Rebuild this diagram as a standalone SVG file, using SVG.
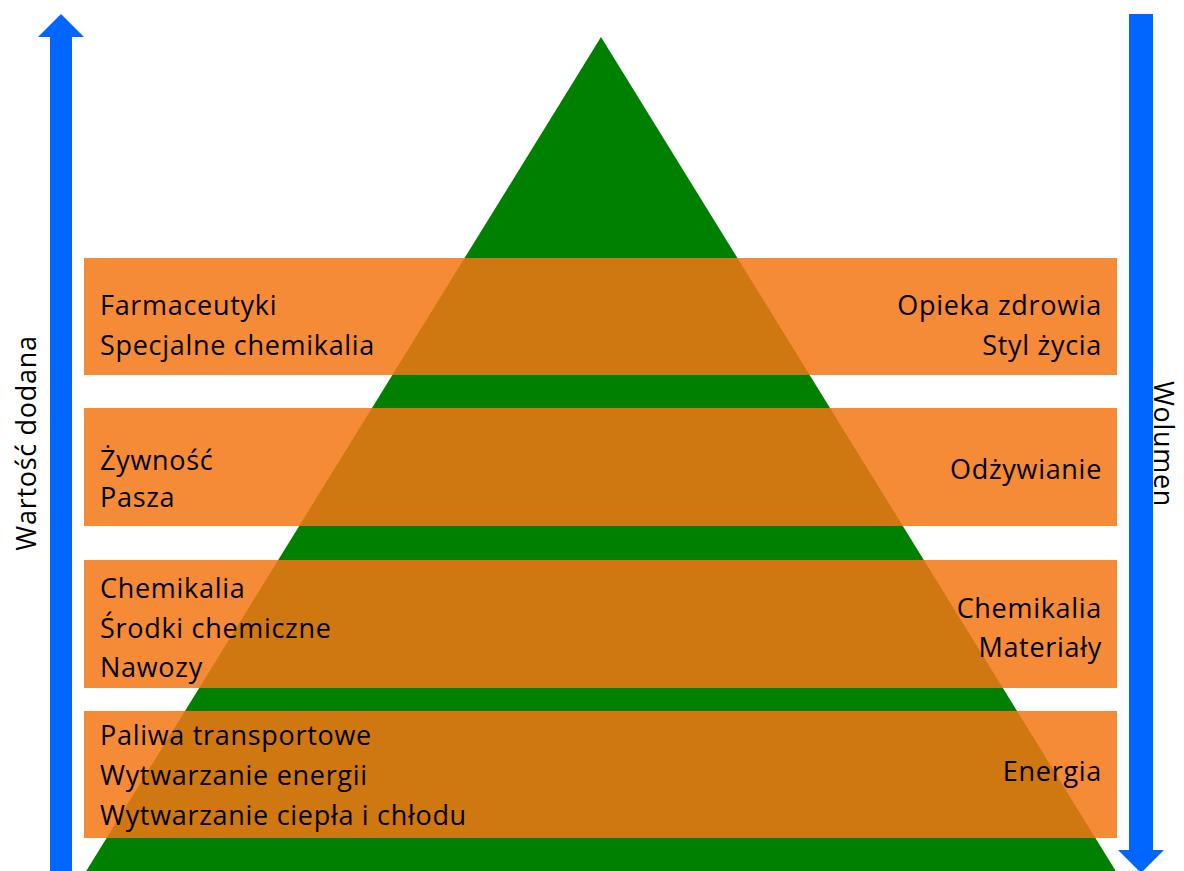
<svg xmlns="http://www.w3.org/2000/svg" width="1184" height="871" viewBox="0 0 1184 871">
<style>
.band{fill:#F37614;fill-opacity:0.85}
.t{font-family:"Open Sans","Noto Sans",sans-serif;font-size:27px;letter-spacing:0.7px;fill:#000}
.r{text-anchor:end}
.arrow{fill:#0066FF}
</style>
<rect width="1184" height="871" fill="#fff"/>
<g id="pyramid"><polygon points="601,37 85,873 1117,873" fill="#008000"/></g>
<g id="connectors">
<polygon class="arrow" points="50,871 50,37 38,37 61,14 84,37 72,37 72,871"/>
<polygon class="arrow" points="1129,14 1153,14 1153,850 1164,850 1141,873 1118,850 1129,850"/>
</g>
<g id="axis-left"><text class="t" transform="translate(36,443) rotate(-90)" text-anchor="middle">Wartość dodana</text></g>
<g id="axis-right"><text class="t" transform="translate(1154,444) rotate(90)" text-anchor="middle">Wolumen</text></g>
<g id="band1">
<rect class="band" x="84" y="258" width="1033" height="117"/>
<text class="t" x="100" y="315">Farmaceutyki</text>
<text class="t" x="100" y="355">Specjalne chemikalia</text>
<text class="t r" x="1102" y="315">Opieka zdrowia</text>
<text class="t r" x="1102" y="355">Styl życia</text>
</g>
<g id="band2">
<rect class="band" x="84" y="408" width="1033" height="118"/>
<text class="t" x="100" y="470">Żywność</text>
<text class="t" x="100" y="507">Pasza</text>
<text class="t r" x="1102" y="479">Odżywianie</text>
</g>
<g id="band3">
<rect class="band" x="84" y="560" width="1033" height="128"/>
<text class="t" x="100" y="598">Chemikalia</text>
<text class="t" x="100" y="638">Środki chemiczne</text>
<text class="t" x="100" y="677">Nawozy</text>
<text class="t r" x="1102" y="618">Chemikalia</text>
<text class="t r" x="1102" y="657">Materiały</text>
</g>
<g id="band4">
<rect class="band" x="84" y="711" width="1033" height="127"/>
<text class="t" x="100" y="745">Paliwa transportowe</text>
<text class="t" x="100" y="785">Wytwarzanie energii</text>
<text class="t" x="100" y="825">Wytwarzanie ciepła i chłodu</text>
<text class="t r" x="1102" y="781">Energia</text>
</g>
</svg>
